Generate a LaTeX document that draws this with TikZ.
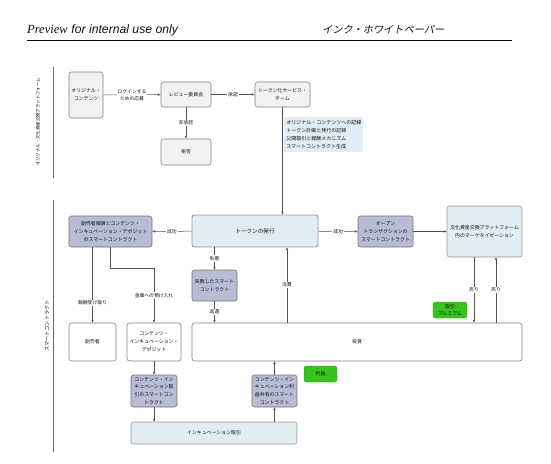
\documentclass[tikz,border=0pt]{standalone}
\usepackage{fontspec}
\setmainfont{Liberation Sans}
\newfontfamily\jp{Noto Sans CJK JP}
\newfontfamily\jpit[FakeSlant=0.2]{Noto Sans CJK JP}
\newfontfamily\tnr{Liberation Serif}
\usetikzlibrary{arrows.meta}
\definecolor{gfill}{HTML}{F2F2F2}
\definecolor{lfill}{HTML}{B8BCD5}
\definecolor{bfill}{HTML}{E1ECF3}
\definecolor{grn}{HTML}{38C21C}
\definecolor{edgec}{HTML}{505050}
\definecolor{txt}{HTML}{111111}
\begin{document}
\begin{tikzpicture}[x=1pt,y=-1pt,
  every node/.style={text=txt},
  box/.style={draw=black!50,rounded corners=2.5pt,line width=0.6pt,align=center,inner sep=1pt,
    font={\jp\fontsize{4.9}{7.7}\selectfont}},
  gbox/.style={box,fill=gfill},
  lbox/.style={box,fill=lfill,draw=black!55},
  bbox/.style={box,fill=bfill,draw=black!40},
  wbox/.style={box,fill=white},
  gnbox/.style={box,fill=grn,draw=grn!80!black,line width=0.4pt},
  lab/.style={fill=white,inner sep=1pt,align=center,font={\jp\fontsize{4.8}{7}\selectfont}},
  arr/.style={draw=edgec,line width=0.5pt,-{Stealth[length=3pt,width=2.4pt]}},
  ln/.style={draw=edgec,line width=0.5pt},
  lane/.style={draw=black!60,line width=0.6pt}]
\useasboundingbox (0,0) rectangle (551,463);

% header
\node[anchor=base west,inner sep=0pt,font={\tnr\itshape\fontsize{12.5}{14}\selectfont}] (pv) at (27,33) {Preview};
\node[anchor=base west,inner sep=0pt,font={\itshape\fontsize{12.2}{14}\selectfont}] (fiu) at (pv.base east) {\ for internal use only};
\node[anchor=base west,inner sep=0pt,font={\jpit\fontsize{10.2}{12}\selectfont}] (ttl) at (322,33) {インク・ホワイトペーパー};
\coordinate (r1) at (27,40);
\coordinate (r2) at (512,40);
\draw[line width=0.8pt] (r1) -- (r2);

% lanes
\coordinate (l1a) at (53,67); \coordinate (l1b) at (53,178);
\coordinate (l2a) at (53,200); \coordinate (l2b) at (53,452);
\draw[lane] (l1a) -- (l1b);
\draw[lane] (l2a) -- (l2b);
\node[rotate=90,inner sep=0pt,font={\jp\fontsize{4.4}{5}\selectfont}] (lane1) at (38,122) {オリジナル・文化資産交換プラットフォーム};
\node[rotate=90,inner sep=0pt,font={\jp\fontsize{5.2}{6}\selectfont}] (lane2) at (47,326) {スマートコントラクト};

% top lane nodes
\node[gbox,minimum width=34,minimum height=46] (orig) at (86,95) {オリジナル・\\コンテンツ};
\node[gbox,minimum width=50,minimum height=25] (review) at (186,94.5) {レビュー委員会};
\node[gbox,minimum width=55,minimum height=25] (team) at (282.5,94.5) {トークン化サービス・\\チーム};
\node[gbox,minimum width=50,minimum height=26] (reject) at (186,152) {拒否};

% middle
\node[lbox,minimum width=83,minimum height=31] (csc) at (110.5,231.5) {創作者報酬とコンテンツ・\\インキュベーション・デポジット\\のスマートコントラクト};
\node[bbox,minimum width=126,minimum height=32,line width=0.9pt,font={\jp\fontsize{5.6}{7}\selectfont}] (issue) at (255,231) {トークンの発行};
\node[lbox,minimum width=55,minimum height=31] (osc) at (385.5,231.5) {オープン\\トランザクションの\\スマートコントラクト};
\node[bbox,minimum width=75,minimum height=51] (mkt) at (484.5,231.5) {文化資産交換プラットフォーム\\内のマーケタイゼーション};
\node[lbox,minimum width=45,minimum height=31] (fsc) at (214.5,285.5) {失敗したスマート\\コントラクト};

% lower
\node[wbox,minimum width=47,minimum height=38] (creator) at (92.5,342) {創作者};
\node[wbox,minimum width=54,minimum height=38] (dep) at (154,342) {コンテンツ・\\インキュベーション・\\デポジット};
\node[wbox,minimum width=330,minimum height=38] (inv) at (357,342) {投資};
\node[gnbox,minimum width=34,minimum height=16] (prem) at (450,310) {取引\\プレミアム};
\node[gnbox,minimum width=33,minimum height=16] (prof) at (320.5,374) {利益};
\node[lbox,minimum width=46,minimum height=32] (tsc) at (154,391) {コンテンツ・イン\\キュベーション取\\引のスマートコン\\トラクト};
\node[lbox,minimum width=45,minimum height=32] (ssc) at (274.5,391) {コンテンツ・イン\\キュベーション利\\益共有のスマート\\コントラクト};
\node[bbox,minimum width=166,minimum height=22] (inc) at (214,433) {インキュベーション取引};

% connectors top
\draw[arr] (orig) -- node[lab] {ログインする\\ための応募} (review);
\draw[arr] (review) -- node[lab] {承認} (team);
\draw[arr] (review) -- node[lab] {非承認} (reject);
\draw[arr] (team.south) -- (team.south |- issue.north);
\node[box,draw=none,rounded corners=0pt,fill=bfill,anchor=north west,align=left,inner sep=1.5pt,
  minimum width=79,minimum height=35,font={\jp\fontsize{5}{8}\selectfont}] (note) at (284,117)
  {オリジナル・コンテンツへの記録\\トークン計画と発行の記録\\公開取引と報酬メカニズム\\スマートコントラクト生成};

% connectors middle
\draw[arr] (issue) -- node[lab] {成功} (csc);
\draw[arr] (issue) -- node[lab] {成功} (osc);
\draw[arr] (osc) -- (mkt);
\draw[arr] (fsc.north |- issue.south) -- node[lab] {失敗} (fsc.north);
\draw[arr] (fsc) -- node[lab] {返還} (fsc.south |- inv.north);
\coordinate (cx) at (287,0);
\draw[arr] (cx |- inv.north) -- node[lab] {消費} (cx |- issue.south);
\coordinate (s1) at (474,0);
\coordinate (s2) at (496,0);
\draw[arr] (s1 |- mkt.south) -- node[lab] {売り} (s1 |- inv.north);
\draw[arr] (s2 |- inv.north) -- node[lab] {売り} (s2 |- mkt.south);

% connectors lower
\draw[arr] (creator.north |- csc.south) -- node[lab,pos=0.74] {報酬受け取り} (creator.north);
\draw[arr] (csc.south) -- ++(0,21) -| node[lab,pos=0.75] {金庫への預け入れ} (dep.north);
\draw[arr] (dep) -- (tsc);
\draw[arr] (tsc.south) -- (tsc.south |- inc.north);
\draw[arr] (ssc.south |- inc.north) -- (ssc.south);
\draw[arr] (ssc.north) -- (ssc.north |- inv.south);
\end{tikzpicture}
\end{document}
